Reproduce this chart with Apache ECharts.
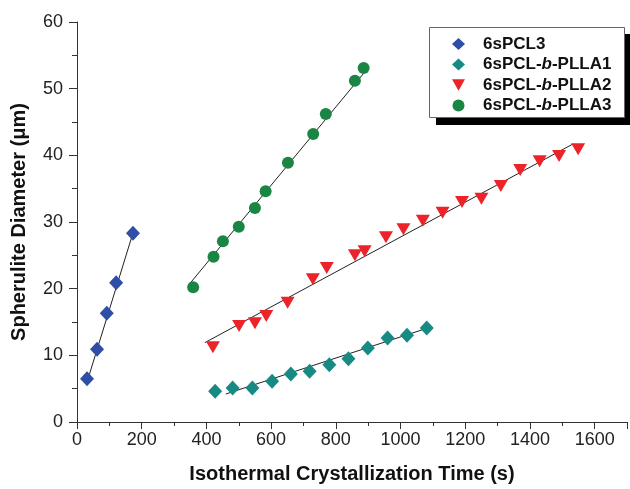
<!DOCTYPE html>
<html>
<head>
<meta charset="utf-8">
<script src="https://cdn.jsdelivr.net/npm/echarts@6/dist/echarts.min.js"></script>
<style>
  html, body { margin: 0; padding: 0; background: #fff; }
  #chart { width: 630px; height: 489px; }
</style>
</head>
<body>
<div id="chart"></div>
<script>
// data: [time (s), diameter (um)]
const pcl3 = [[31, 6.5], [62, 10.9], [92, 16.3], [121, 20.9], [173, 28.3]]
const plla1 = [[427, 4.6], [481, 5.1], [542, 5.1], [603, 6.1], [661, 7.2], [719, 7.6], [780, 8.6], [839, 9.5], [899, 11.1], [960, 12.6], [1020, 13.0], [1081, 14.1]]
const plla2 = [[420, 11.2], [501, 14.4], [550, 14.8], [585, 15.9], [651, 17.9], [729, 21.4], [772, 23.1], [859, 25.0], [889, 25.6], [955, 27.7], [1009, 28.9], [1069, 30.2], [1130, 31.4], [1190, 33.0], [1250, 33.5], [1310, 35.4], [1370, 37.8], [1430, 39.1], [1490, 39.9], [1549, 40.9]]
const plla3 = [[359, 20.2], [422, 24.8], [451, 27.1], [500, 29.3], [550, 32.1], [583, 34.6], [652, 38.9], [730, 43.2], [769, 46.2], [859, 51.2], [886, 53.1]]

// linear fit lines, endpoints as drawn
const fit1 = [[33, 6.3], [172, 28.2]]
const fit2 = [[460, 4.2], [1084, 14.1]]
const fit3 = [[395, 11.9], [1533, 41.7]]
const fit4 = [[346, 20.6], [886, 52.3]]

const names = ['6sPCL3', '6sPCL-b-PLLA1', '6sPCL-b-PLLA2', '6sPCL-b-PLLA3']

const chart = echarts.init(document.getElementById('chart'))

const font = 'Liberation Sans, Arial, sans-serif'
const downTriangle = 'path://M0,0L10,0L5,8.66Z'

const fitSeries = (data) => ({
  type: 'line',
  data: data,
  showSymbol: false,
  symbol: 'none',
  silent: true,
  z: 1,
  lineStyle: { color: '#222', width: 1 }
})

const option = {
  animation: false,
  backgroundColor: '#fff',
  grid: { left: 77, right: -6, top: 22, bottom: 58 },
  // legend frame with its hard black shadow
  graphic: [
    {
      type: 'rect', z: 90, silent: true,
      shape: { x: 436, y: 34, width: 196, height: 91 },
      style: { fill: '#000' }
    },
    {
      type: 'rect', z: 91, silent: true,
      shape: { x: 429.5, y: 27.5, width: 195, height: 90 },
      style: { fill: '#fff', stroke: '#666', lineWidth: 1 }
    }
  ],
  legend: {
    data: names.map((n, i) => (i === 2 ? { name: n, icon: downTriangle } : n)),
    orient: 'vertical',
    left: 452,
    top: 34,
    padding: 0,
    itemGap: 0.5,
    itemWidth: 13,
    itemHeight: 12,
    z: 100,
    textStyle: {
      fontFamily: font,
      fontSize: 17,
      fontWeight: 'bold',
      color: '#111',
      lineHeight: 20,
      padding: [0, 0, 0, 13],
      rich: {
        i: { fontFamily: font, fontSize: 17, fontWeight: 'bold', fontStyle: 'italic', color: '#111', lineHeight: 20 }
      }
    },
    formatter: (n) => n.replace('-b-', '-{i|b}-')
  },
  xAxis: {
    type: 'value',
    min: 0,
    max: 1700,
    interval: 200,
    name: 'Isothermal Crystallization Time (s)',
    nameLocation: 'middle',
    nameGap: 42,
    nameTextStyle: { fontFamily: font, fontSize: 20, fontWeight: 'bold', color: '#111' },
    axisLine: { lineStyle: { color: '#333', width: 1 } },
    axisTick: { length: 7, lineStyle: { color: '#333' } },
    minorTick: { show: true, splitNumber: 2, length: 4, lineStyle: { color: '#333' } },
    splitLine: { show: false },
    minorSplitLine: { show: false },
    axisLabel: {
      fontFamily: font,
      fontSize: 18,
      color: '#222',
      margin: 9,
      formatter: (v) => (v <= 1600 ? String(v) : '')
    }
  },
  yAxis: {
    type: 'value',
    min: 0,
    max: 60,
    interval: 10,
    name: 'Spherulite Diameter (\u03bcm)',
    nameLocation: 'middle',
    nameGap: 48,
    nameTextStyle: { fontFamily: font, fontSize: 20, fontWeight: 'bold', color: '#111' },
    axisLine: { show: true, lineStyle: { color: '#333', width: 1 } },
    axisTick: { show: true, length: 8, lineStyle: { color: '#333' } },
    minorTick: { show: true, splitNumber: 2, length: 5, lineStyle: { color: '#333' } },
    splitLine: { show: false },
    minorSplitLine: { show: false },
    axisLabel: {
      fontFamily: font,
      fontSize: 18,
      color: '#222',
      margin: 14
    }
  },
  series: [
    fitSeries(fit1),
    fitSeries(fit2),
    fitSeries(fit3),
    fitSeries(fit4),
    {
      name: names[0], type: 'scatter', data: pcl3, z: 3,
      symbol: 'diamond', symbolSize: [14, 15],
      itemStyle: { color: '#2f4ea6', opacity: 1 }
    },
    {
      name: names[1], type: 'scatter', data: plla1, z: 3,
      symbol: 'diamond', symbolSize: [14, 15],
      itemStyle: { color: '#178a84', opacity: 1 }
    },
    {
      name: names[2], type: 'scatter', data: plla2, z: 3,
      symbol: 'triangle', symbolRotate: 180, symbolSize: [14, 12],
      itemStyle: { color: '#ec2328', opacity: 1 }
    },
    {
      name: names[3], type: 'scatter', data: plla3, z: 3,
      symbol: 'circle', symbolSize: 12,
      itemStyle: { color: '#1b8544', opacity: 1 }
    }
  ]
}

chart.setOption(option)
</script>
</body>
</html>
